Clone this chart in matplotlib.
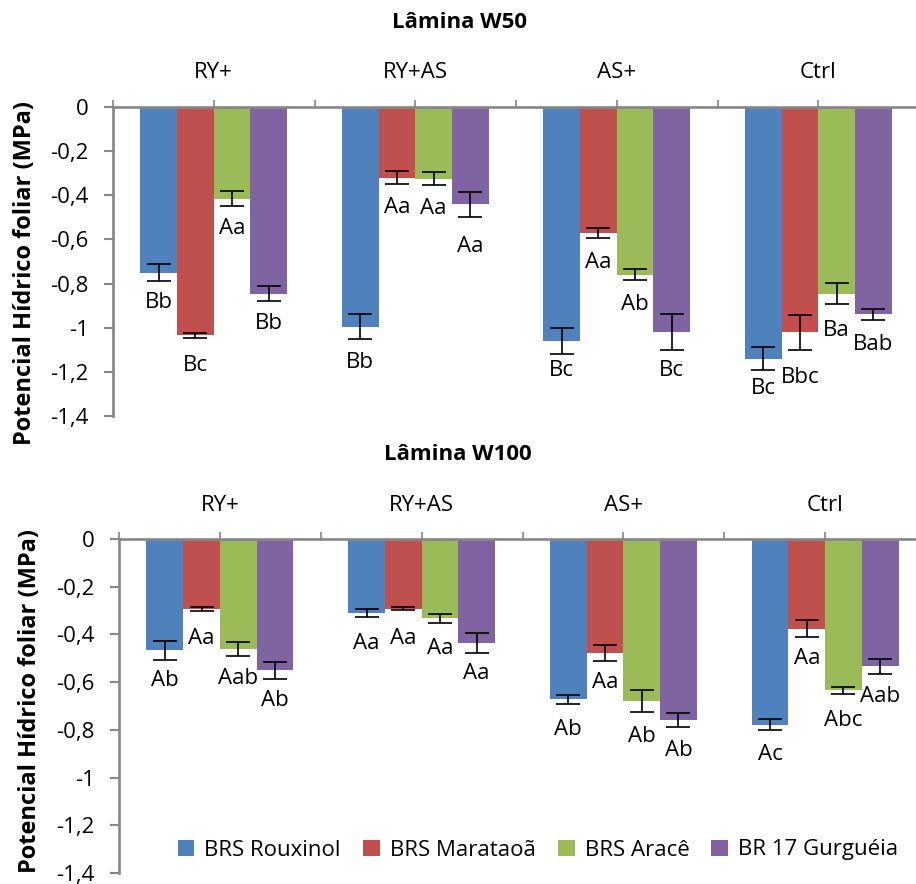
import numpy as np
import matplotlib
matplotlib.use("Agg")
import matplotlib.pyplot as plt
from matplotlib.ticker import FuncFormatter

plt.rcParams['font.family'] = ['Open Sans', 'DejaVu Sans']

# data
categories = ["RY+", "RY+AS", "AS+", "Ctrl"]
cultivars = ["BRS Rouxinol", "BRS Marataoã", "BRS Aracê", "BR 17 Gurguéia"]
colors = ["#4F81BD", "#C0504D", "#9BBB59", "#8064A2"]

# Lâmina W50, one row per cultivar, one value per category
w50_vals = [[-0.75, -0.995, -1.06, -1.14],
            [-1.035, -0.32, -0.57, -1.02],
            [-0.415, -0.325, -0.76, -0.845],
            [-0.845, -0.44, -1.02, -0.94]]
w50_err = [[0.04, 0.056, 0.059, 0.051],
           [0.012, 0.03, 0.024, 0.079],
           [0.033, 0.03, 0.026, 0.048],
           [0.032, 0.057, 0.082, 0.025]]
w50_letters = [["Bb", "Bb", "Bc", "Bc"],
               ["Bc", "Aa", "Aa", "Bbc"],
               ["Aa", "Aa", "Ab", "Ba"],
               ["Bb", "Aa", "Bc", "Bab"]]

# Lâmina W100
w100_vals = [[-0.466, -0.311, -0.671, -0.778],
             [-0.293, -0.293, -0.477, -0.376],
             [-0.46, -0.333, -0.68, -0.634],
             [-0.55, -0.437, -0.76, -0.533]]
w100_err = [[0.04, 0.018, 0.019, 0.023],
            [0.007, 0.006, 0.033, 0.036],
            [0.03, 0.02, 0.047, 0.015],
            [0.036, 0.041, 0.029, 0.032]]
w100_letters = [["Ab", "Aa", "Ab", "Ac"],
                ["Aa", "Aa", "Aa", "Aa"],
                ["Aab", "Aa", "Ab", "Abc"],
                ["Ab", "Aa", "Ab", "Aab"]]

# extra downward shift of some letters (pixels), same layout as the values
w50_nudge = [[0, 6, 0, 0],
             [0, 0, 0, 15],
             [0, 0, 0, 7],
             [0, 12, 8, 0]]
w100_nudge = [[0, 0, 0, 0],
              [0, 0, 0, 0],
              [0, 0, 5, 0],
              [0, 0, 0, 0]]

W, H = 916, 884
fig = plt.figure(figsize=(W / 100, H / 100), dpi=100)
GRAY = "#868686"
FS = 16
PX = 72 / 100  # points per pixel


def draw_panel(ax, vals, errs, letters, nudge):
    x = np.arange(len(categories))
    bw = 0.182
    for i in range(len(cultivars)):
        xs = x + (i - 1.5) * bw
        ax.bar(xs, vals[i], bw, color=colors[i], label=cultivars[i],
               yerr=errs[i], capsize=8.4,
               error_kw=dict(ecolor="black", elinewidth=1.2, capthick=1.2))
        for j in range(len(categories)):
            ax.annotate(letters[i][j], xy=(xs[j], vals[i][j]),
                        xytext=(0, -(30 + nudge[i][j]) * PX),
                        textcoords="offset points", ha="center", va="center",
                        fontsize=FS)
    ax.set_xlim(-0.5, 3.5)
    ax.set_ylim(-1.4, 0)
    ax.set_yticks(np.arange(-1.4, 0.01, 0.2))
    ax.yaxis.set_major_formatter(FuncFormatter(
        lambda v, p: ("%g" % round(v, 1)).replace(".", ",") if abs(v) > 1e-9 else "0"))
    ax.xaxis.tick_top()
    ax.set_xticks(np.arange(-0.5, 3.51, 0.5))
    ax.set_xticklabels([])
    ax.tick_params(axis="x", direction="out", length=5, width=1.2, color=GRAY)
    ax.tick_params(axis="y", direction="out", length=6.5, width=1.5, color=GRAY,
                   pad=11, labelsize=FS)
    for s in ["bottom", "right"]:
        ax.spines[s].set_visible(False)
    for s in ["left", "top"]:
        ax.spines[s].set_color(GRAY)
        ax.spines[s].set_linewidth(1.9)
    for j, c in enumerate(categories):
        ax.annotate(c, xy=(j, 1), xycoords=("data", "axes fraction"),
                    xytext=(0, 34 * PX), textcoords="offset points",
                    ha="center", va="center", fontsize=FS)


ax1 = fig.add_axes([113 / W, 1 - 416 / H, (919 - 113) / W, (416 - 107) / H])
draw_panel(ax1, w50_vals, w50_err, w50_letters, w50_nudge)
ax2 = fig.add_axes([119 / W, 1 - 873 / H, (926 - 119) / W, (873 - 539) / H])
draw_panel(ax2, w100_vals, w100_err, w100_letters, w100_nudge)

fig.text(460 / W, 1 - 22 / H, "Lâmina W50", ha="center", va="center",
         fontsize=FS, fontweight="bold")
fig.text(458 / W, 1 - 455 / H, "Lâmina W100", ha="center", va="center",
         fontsize=FS, fontweight="bold")
fig.text(25 / W, 1 - 273 / H, "Potencial Hídrico foliar (MPa)", rotation=90,
         ha="center", va="center", fontsize=17, fontweight="bold")
fig.text(30 / W, 1 - 701 / H, "Potencial Hídrico foliar (MPa)", rotation=90,
         ha="center", va="center", fontsize=17, fontweight="bold")

ax2.legend(ncol=4, loc="center", bbox_to_anchor=(538 / W, 1 - 850 / H),
           bbox_transform=fig.transFigure, frameon=False, fontsize=FS,
           handlelength=0.75, handleheight=0.75, handletextpad=0.45,
           columnspacing=1.0, borderaxespad=0)

fig.savefig("out.png", dpi=100)
